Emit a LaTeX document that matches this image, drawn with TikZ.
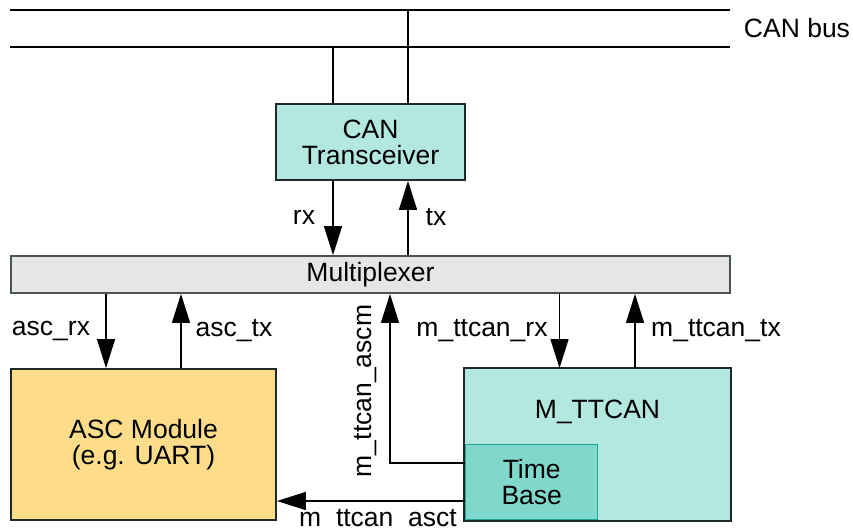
\documentclass[tikz,border=0pt]{standalone}
\usepackage{fontspec}
\setmainfont{Liberation Sans}
\usepackage{tikz}
\usetikzlibrary{
  arrows.meta,
  positioning,
  calc
}
\definecolor{tealfill}{HTML}{B3E8E1}
\definecolor{tealdark}{HTML}{80D8CD}
\definecolor{tealedge}{HTML}{1FA898}
\definecolor{muxfill}{HTML}{E6E6E6}
\definecolor{ascfill}{HTML}{FDDD8A}
\definecolor{boxedge}{HTML}{1E2A28}

\begin{document}
\begin{tikzpicture}[
    x=1pt,y=-1pt,
    >={Triangle[length=29pt,width=18pt]},
    font=\fontsize{26.5}{29}\selectfont,
    wire/.style={line width=1.4pt},
    block/.style={draw=boxedge,line width=1.8pt,align=center,inner sep=0pt},
    lbl/.style={inner sep=0pt}
    ]

    \useasboundingbox (0,0) rectangle (853,528);

    % CAN bus
    \coordinate (busAl) at (10,10);
    \coordinate (busAr) at (730,10);
    \coordinate (busBl) at (10,47);
    \coordinate (busBr) at (730,47);
    \draw[wire] (busAl)--(busAr);
    \draw[wire] (busBl)--(busBr);
    \node[lbl] (buslabel) at (797,28) {CAN bus};

    % blocks
    \node[block,fill=tealfill,minimum width=189pt,minimum height=76pt]
    (trx) at (370.5,142) {CAN\\[-3pt]Transceiver};

    \node[block,fill=muxfill,draw=boxedge!80,minimum width=719pt,minimum height=37pt]
    (mux) at (370.5,274.5) {Multiplexer};

    \node[block,fill=ascfill,minimum width=265pt,minimum height=151pt]
    (asc) at (143.5,444.5) {ASC Module\\[-3pt](e.g. UART)};

    \node[block,draw=none,fill=tealfill,minimum width=265pt,minimum height=151pt]
    (mttcan) at (597.5,444.5) {};
    \node[lbl] (mttcanlabel) at (597.5,412) {M\_TTCAN};

    \node[draw=tealedge,line width=1.4pt,fill=tealdark,align=center,
    minimum width=132pt,minimum height=75pt,inner sep=0pt,
    anchor=south west]
    (tbase) at ([xshift=0.9pt,yshift=0.9pt]mttcan.south west) {Time\\[-3pt]Base};
    \draw[boxedge,line width=1.8pt] (mttcan.north west) rectangle (mttcan.south east);

    % transceiver to bus
    \draw[wire] ([xshift=-37.5pt]trx.north) -- ([xshift=-37.5pt]trx.north |- busBl);
    \draw[wire] ([xshift=37.5pt]trx.north) -- ([xshift=37.5pt]trx.north |- busAl);

    % rx / tx
    \draw[wire,->] ([xshift=-37.5pt]trx.south) -- ([xshift=-37.5pt]trx.south |- mux.north);
    \draw[wire,->] ([xshift=37.5pt]trx.south |- mux.north) -- ([xshift=37.5pt]trx.south);
    \node[lbl] (rxlabel) at (304,217) {rx};
    \node[lbl] (txlabel) at (436,217) {tx};

    % ASC module
    \draw[wire,->] ([xshift=-37.5pt]asc.north |- mux.south) -- ([xshift=-37.5pt]asc.north);
    \draw[wire,<-] ([xshift=37.5pt]asc.north |- mux.south) -- ([xshift=37.5pt]asc.north);
    \node[lbl] (ascrx) at (51,331) {asc\_rx};
    \node[lbl] (asctx) at (234,331) {asc\_tx};

    % M_TTCAN
    \draw[wire,->] ([xshift=-38pt]mttcan.north |- mux.south) -- ([xshift=-38pt]mttcan.north);
    \draw[wire,<-] ([xshift=37.5pt]mttcan.north |- mux.south) -- ([xshift=37.5pt]mttcan.north);
    \node[lbl] (mrx) at (482,331) {m\_ttcan\_rx};
    \node[lbl] (mtx) at (716,331) {m\_ttcan\_tx};

    % time base outputs
    \coordinate (ascmturn) at (390,463);
    \draw[wire,->] (tbase.west |- ascmturn) -- (ascmturn) -- (ascmturn |- mux.south);
    \node[lbl,rotate=90] (ascmlabel) at (366,391) {m\_ttcan\_ascm};

    \coordinate (ascttap) at (465,501);
    \draw[wire,->] (ascttap) -- (ascttap -| asc.east);
    \node[lbl,anchor=base] (asctlabel) at (378,526) {m\_ttcan\_asct};

\end{tikzpicture}
\end{document}
